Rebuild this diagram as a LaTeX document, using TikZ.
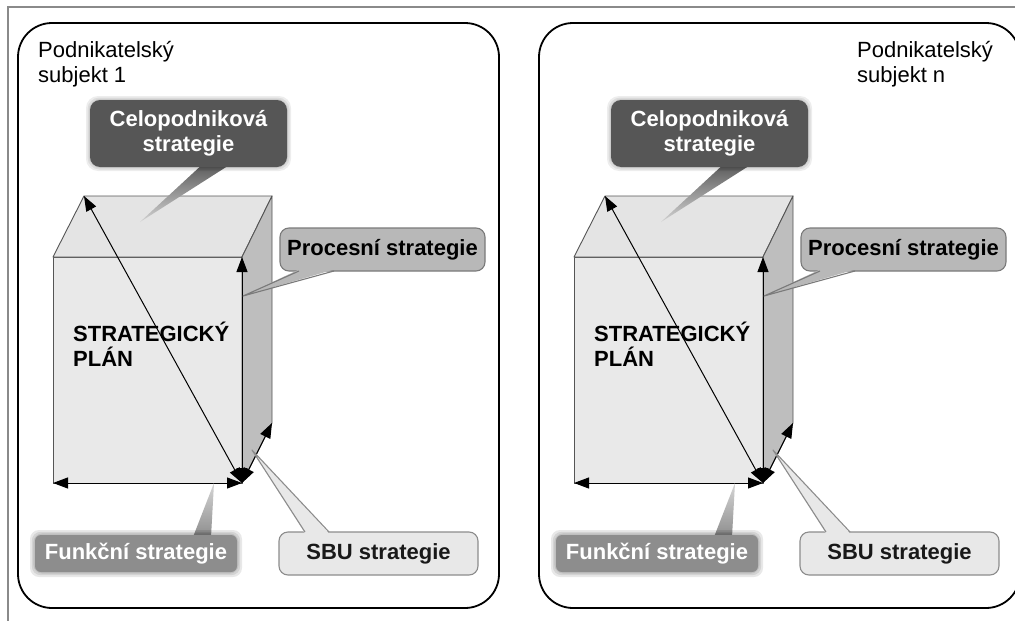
\documentclass[tikz,border=0pt]{standalone}
\usepackage{fontspec}
\setmainfont{Liberation Sans}
\usetikzlibrary{arrows.meta}

\definecolor{framegray}{HTML}{8A8A8A}
\definecolor{edgegray}{HTML}{555555}
\definecolor{frontfill}{HTML}{E9E9E9}
\definecolor{topfill}{HTML}{E4E4E4}
\definecolor{sidefill}{HTML}{BEBEBE}
\definecolor{celfill}{HTML}{565656}
\definecolor{celtip}{HTML}{D2D2D2}
\definecolor{procfill}{HTML}{B8B8B8}
\definecolor{procline}{HTML}{7A7A7A}
\definecolor{funkfill}{HTML}{8D8D8D}
\definecolor{funktip}{HTML}{D6D6D6}
\definecolor{sbufill}{HTML}{E8E8E8}
\definecolor{sbuline}{HTML}{8C8C8C}

\tikzset{
  panelbox/.style={draw=black, line width=1.8pt, rounded corners=34pt},
  cubeface/.style={draw=edgegray, line width=0.9pt, line join=round},
  dimarrow/.style={{Triangle[length=15pt,width=11pt]}-{Triangle[length=15pt,width=11pt]}, line width=1pt, black},
  boxtext/.style={font=\bfseries\fontsize{22}{25}\selectfont, align=center, inner sep=0pt},
  plaintext/.style={font=\fontsize{22}{25}\selectfont, align=left, inner sep=0pt, anchor=north west},
  halo/.style={black, opacity=0.07},
}

% one business unit: frame, cube with its dimension arrows, four callouts
\newcommand\strategypanel[4]{% #1 name suffix, #2 horizontal offset, #3 label x, #4 unit index
\begin{scope}[shift={(#2,0)}]
  \draw[panelbox] (18,23) rectangle (499,608);
  \node[plaintext] (lbl#1) at (#3,41) {Podnikatelský\\subjekt #4};

  % cube corners
  \coordinate (fbl#1) at (53,483);
  \coordinate (fbr#1) at (242,483);
  \coordinate (ftl#1) at (53,257);
  \coordinate (ftr#1) at (242,257);
  \coordinate (btl#1) at (84,196);
  \coordinate (btr#1) at (272,196);
  \coordinate (bbr#1) at (272,423);

  \filldraw[cubeface, fill=frontfill] (fbl#1) rectangle (ftr#1);
  \filldraw[cubeface, fill=topfill] (ftl#1) -- (btl#1) -- (btr#1) -- (ftr#1) -- cycle;
  \filldraw[cubeface, fill=sidefill] (ftr#1) -- (btr#1) -- (bbr#1) -- (fbr#1) -- cycle;

  \node[font=\bfseries\fontsize{22}{25}\selectfont, align=left, inner sep=0pt, anchor=north west]
    (plan#1) at (73,322) {STRATEGICKÝ\\PLÁN};

  \draw[dimarrow] (fbr#1) -- (btl#1);
  \draw[dimarrow] (fbr#1) -- (ftr#1);
  \draw[dimarrow] (fbr#1) -- (fbl#1);
  \draw[dimarrow] (fbr#1) -- (bbr#1);

  % corporate strategy callout
  \coordinate (celtipA#1) at (140,222);
  \shade[top color=celfill, bottom color=celtip] (205,162) -- (234,162) -- (celtipA#1) -- cycle;
  \foreach \g in {4,2.5,1.2}
    \fill[halo, rounded corners=12pt] (90-\g,100-\g) rectangle (287+\g,167+\g);
  \node[boxtext, fill=celfill, text=white, rounded corners=10pt,
        minimum width=197pt, minimum height=67pt] (cel#1) at (188.5,133.5)
        {Celopodniková\\strategie};

  % process strategy callout
  \coordinate (proctip#1) at (243,296);
  \node[boxtext, fill=procfill, draw=procline, line width=1.1pt, rounded corners=9pt,
        minimum width=205pt, minimum height=43pt] (proc#1) at (382.5,249.5)
        {Procesní strategie};
  \fill[procfill] (299,269.5) -- (334,269.5) -- (proctip#1) -- cycle;
  \draw[procline, line width=1.1pt, line join=round] (299,271) -- (proctip#1) -- (334,271);

  % functional strategy callout
  \coordinate (funktip#1) at (214,483);
  \shade[top color=funktip, bottom color=funkfill] (193,537) -- (funktip#1) -- (211,537) -- cycle;
  \foreach \g in {5,3.2,1.6}
    \fill[halo, opacity=0.09, rounded corners=9pt] (35-\g,535-\g) rectangle (237+\g,572+\g);
  \node[boxtext, fill=funkfill, text=white, rounded corners=6pt,
        minimum width=202pt, minimum height=37pt] (funk#1) at (136,553.5)
        {Funkční strategie};

  % business unit strategy callout
  \coordinate (sbutip#1) at (252,450);
  \node[boxtext, fill=sbufill, draw=sbuline, line width=1.1pt, rounded corners=9pt,
        minimum width=199pt, minimum height=43pt, text=black!90] (sbu#1) at (378.5,553.5)
        {SBU strategie};
  \fill[sbufill] (305,533.5) -- (sbutip#1) -- (329,533.5) -- cycle;
  \draw[sbuline, line width=1.1pt, line join=round] (305,532) -- (sbutip#1) -- (329,532);
\end{scope}}

\begin{document}
\begin{tikzpicture}[x=1pt, y=-1pt]
  \useasboundingbox (0,0) rectangle (1015,621);
  \fill[white] (0,0) rectangle (1015,621);
  \clip (0,0) rectangle (1015,621);
  \draw[framegray, line width=1.3pt] (1015,7) -- (8,7) -- (8,621);
  \strategypanel{a}{0}{38}{1}
  \strategypanel{b}{521}{336}{n}
\end{tikzpicture}
\end{document}
